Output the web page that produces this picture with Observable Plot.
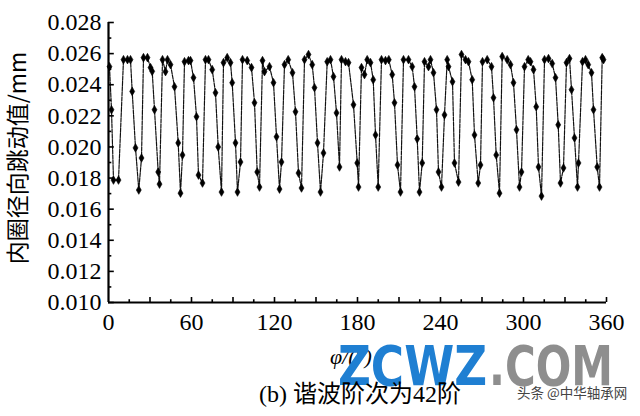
<!DOCTYPE html>
<html>
<head>
<meta charset="utf-8">
<script src="https://cdn.jsdelivr.net/npm/d3@7"></script>
<script src="https://cdn.jsdelivr.net/npm/@observablehq/plot@0.6"></script>
<style>
  html, body { margin: 0; padding: 0; background: #fff; }
  #chart { width: 640px; height: 416px; overflow: hidden; }
</style>
</head>
<body>
<div id="chart"></div>
<script>
// Angle (degrees) and inner-ring radial runout (mm)
const angle = [0.72, 2.17, 3.61, 7.23, 10.84, 13.74, 15.90, 17.13, 19.52, 21.90, 23.86, 25.30, 28.19, 30.36, 31.59, 33.25, 35.93, 36.87,
  39.04, 41.21, 42.65, 44.82, 47.71, 50.39, 52.05, 53.49, 54.94, 57.83, 59.28, 61.45, 63.62, 65.06, 67.95,
  70.12, 72.29, 74.97, 77.35, 79.30, 81.69, 83.13, 85.81, 88.19, 89.42, 91.81, 93.25, 95.42,
  96.87, 100.27, 103.38, 105.54, 107.50, 109.16, 111.33, 112.77, 116.39, 119.28, 121.45, 123.62, 125.06,
  127.23, 129.91, 133.01, 135.18, 137.35, 139.52, 141.69, 144.58, 147.26, 148.92, 151.09, 153.26, 155.42,
  158.10, 160.48, 162.65, 164.82, 166.99, 168.43, 171.33, 173.50, 177.11, 179.79, 180.73,
  182.89, 185.06, 187.02, 189.40, 191.36, 193.02, 194.97, 197.35, 200.24, 202.63, 205.09, 206.75, 208.92, 211.09,
  213.26, 216.87, 219.55, 221.21, 223.16, 224.82, 226.78, 228.44, 231.33, 232.77, 234.94, 237.11, 238.56, 240.72,
  242.89, 244.85, 245.79, 248.68, 250.12, 253.02, 255.18, 258.08, 260.24, 262.92, 264.58, 267.26, 268.92,
  270.36, 273.76, 276.87, 278.32, 280.27, 282.65, 284.60, 288.22, 290.61, 292.77, 294.94, 297.11, 298.56,
  300.73, 303.40, 305.07, 307.24, 309.19, 310.85, 313.02, 315.19, 318.08, 320.75, 323.14, 325.09, 326.75, 328.92,
  331.09, 333.26, 334.71, 336.87, 339.04, 339.76, 342.65, 344.82, 346.78, 349.16, 350.61, 353.28, 354.95,
  356.90, 357.84];
const runout = [0.02516, 0.02239, 0.01787, 0.01787, 0.02561, 0.02561, 0.02561, 0.02357, 0.01994, 0.01723, 0.01929, 0.02574, 0.02574, 0.02510, 0.02486, 0.02239, 0.01839, 0.01761,
  0.02561, 0.02484, 0.02561, 0.02529, 0.02387, 0.02026, 0.01703, 0.01948, 0.02548, 0.02555, 0.02555, 0.02445, 0.02194, 0.01819, 0.01768,
  0.02561, 0.02561, 0.02497, 0.02348, 0.02000, 0.01710, 0.02542, 0.02574, 0.02542, 0.02413, 0.02026, 0.01710, 0.01903,
  0.02561, 0.02555, 0.02510, 0.02284, 0.01839, 0.01742, 0.02555, 0.02484, 0.02516, 0.02413, 0.02065, 0.01729, 0.01903,
  0.02529, 0.02561, 0.02477, 0.02226, 0.01832, 0.01736, 0.02561, 0.02594, 0.02529, 0.02381, 0.02026, 0.01710, 0.01961,
  0.02548, 0.02561, 0.02452, 0.02219, 0.01871, 0.02561, 0.02548, 0.02542, 0.02271, 0.01897, 0.01742,
  0.02510, 0.02465, 0.02561, 0.02542, 0.02432, 0.02077, 0.01742, 0.02561, 0.02555, 0.02561, 0.02465, 0.02284, 0.01884, 0.01710,
  0.02561, 0.02561, 0.02516, 0.02387, 0.02052, 0.01710, 0.01897, 0.02548, 0.02516, 0.02561, 0.02477, 0.02239, 0.01839, 0.01742,
  0.02206, 0.02561, 0.02516, 0.02419, 0.01897, 0.01774, 0.02594, 0.02561, 0.02548, 0.02432, 0.02077, 0.01768, 0.01884,
  0.02548, 0.02561, 0.02516, 0.02316, 0.01948, 0.01703, 0.02581, 0.02561, 0.02529, 0.02413, 0.02110, 0.01742, 0.01839,
  0.02516, 0.02561, 0.02548, 0.02497, 0.02258, 0.01871, 0.01684, 0.02561, 0.02568, 0.02536, 0.02445, 0.02142, 0.01768, 0.01865,
  0.02542, 0.02568, 0.02368, 0.02058, 0.01742, 0.01897, 0.02548, 0.02561, 0.02529, 0.02477, 0.02239, 0.01871, 0.01742,
  0.02574, 0.02561];

const xLabels = [0, 60, 120, 180, 240, 300, 360];
const xMajorTicks = [30, 60, 90, 120, 150, 180, 210, 240, 270, 300, 330, 360];
const xMinorTicks = [15, 45, 75, 105, 135, 165, 195, 225, 255, 285, 315, 345];
const yLabels = [0.010, 0.012, 0.014, 0.016, 0.018, 0.020, 0.022, 0.024, 0.026, 0.028];
const yMinorTicks = [0.011, 0.013, 0.015, 0.017, 0.019, 0.021, 0.023, 0.025, 0.027];

const yTitle = "内圈径向跳动值/mm";
const xTitle = "φ/(°)";
const caption = "(b) 谐波阶次为42阶";
const watermark1 = "ZCWZ";
const watermark2 = ".COM";
const watermark3 = "头条 @中华轴承网";

const data = angle.map((a, i) => ({angle: a, runout: runout[i]}));

const chart = Plot.plot({
  width: 640,
  height: 416,
  marginLeft: 108,
  marginRight: 34,
  marginTop: 22,
  marginBottom: 114,
  style: {fontFamily: "'Liberation Serif', 'Times New Roman', serif", fontSize: "24px", color: "#000", background: "#fff"},
  x: {domain: [0, 360]},
  y: {domain: [0.010, 0.028]},
  marks: [
    Plot.line(data, {x: "angle", y: "runout", stroke: "#111", strokeWidth: 1.2, strokeDasharray: "4,1.2"}),
    Plot.dot(data, {x: "angle", y: "runout", r: 2.6, fill: "#000", stroke: "#000", strokeWidth: 0.6, symbol: "diamond"}),
    Plot.ruleX(xMajorTicks, {x: d => d, y1: 0.010, y2: 0.01032, stroke: "#000", strokeWidth: 1.6}),
    Plot.ruleX(xMinorTicks, {x: d => d, y1: 0.010, y2: 0.01018, stroke: "#000", strokeWidth: 1.6}),
    Plot.ruleY(yLabels, {y: d => d, x1: 0, x2: 4.2, stroke: "#000", strokeWidth: 1.6}),
    Plot.ruleY(yMinorTicks, {y: d => d, x1: 0, x2: 2.4, stroke: "#000", strokeWidth: 1.6}),
    Plot.ruleY([0.010], {x1: 0, x2: 360, stroke: "#000", strokeWidth: 2.2}),
    Plot.ruleX([0], {y1: 0.010, y2: 0.028, stroke: "#000", strokeWidth: 2.2}),
    Plot.axisX(xLabels, {tickSize: 0, tickPadding: 10, label: null, fontSize: 24}),
    Plot.axisY(yLabels, {tickSize: 0, tickPadding: 7, tickFormat: d3.format(".3f"), label: null, fontSize: 24})
  ]
});

document.getElementById("chart").appendChild(chart);

const svg = d3.select(chart);
svg.append("text")
  .attr("transform", "translate(26,158) rotate(-90)")
  .attr("text-anchor", "middle")
  .attr("font-family", "'Noto Sans CJK SC', sans-serif")
  .attr("font-size", 23)
  .attr("fill", "#000")
  .text(yTitle);

svg.append("text")
  .attr("x", 330).attr("y", 364)
  .attr("text-anchor", "start")
  .attr("font-family", "'Liberation Serif', serif")
  .attr("font-style", "italic")
  .attr("font-size", 22)
  .attr("fill", "#000")
  .text(xTitle);

svg.append("text")
  .attr("x", 338).attr("y", 385)
  .attr("text-anchor", "start")
  .attr("font-family", "'DejaVu Sans', sans-serif")
  .attr("font-weight", "bold")
  .attr("font-size", 55)
  .attr("textLength", 149)
  .attr("lengthAdjust", "spacingAndGlyphs")
  .attr("fill", "#1f7fd2")
  .text(watermark1);

svg.append("text")
  .attr("x", 489).attr("y", 385)
  .attr("text-anchor", "start")
  .attr("font-family", "'DejaVu Sans', sans-serif")
  .attr("font-weight", "bold")
  .attr("font-size", 55)
  .attr("textLength", 124)
  .attr("lengthAdjust", "spacingAndGlyphs")
  .attr("fill", "#8e8e8e")
  .text(watermark2);

svg.append("text")
  .attr("x", 360).attr("y", 402)
  .attr("text-anchor", "middle")
  .attr("font-family", "'Liberation Serif', 'Noto Sans CJK SC', serif")
  .attr("font-size", 24)
  .attr("fill", "#000")
  .text(caption);

svg.append("text")
  .attr("x", 517).attr("y", 398)
  .attr("text-anchor", "start")
  .attr("font-family", "'Noto Sans CJK SC', sans-serif")
  .attr("font-size", 13.5)
  .attr("fill", "#444")
  .text(watermark3);
</script>
</body>
</html>
